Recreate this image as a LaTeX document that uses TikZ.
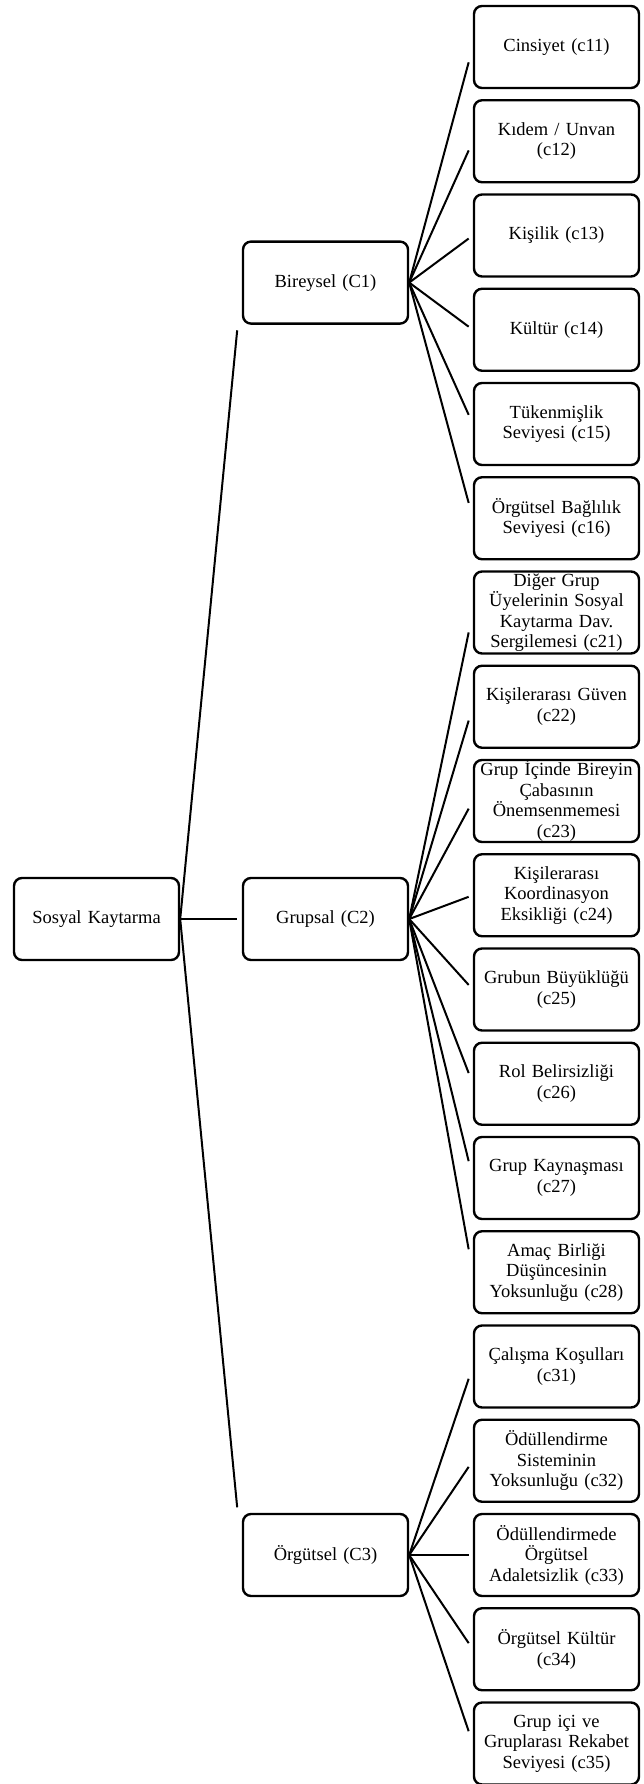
\documentclass[tikz,border=0pt]{standalone}
\usepackage{fontspec}
\setmainfont{Liberation Serif}
\usetikzlibrary{calc}
\begin{document}
\begin{tikzpicture}[x=1pt,y=-1pt,
  box/.style={draw, line width=2.4pt, rounded corners=8pt, minimum width=165pt,
    minimum height=82pt, text width=162pt, align=center, inner sep=0pt,
    font=\fontsize{18.5}{20.5}\selectfont},
  conn/.style={line width=2pt}]
\useasboundingbox (0,0) rectangle (643,1784);
% root and categories
\node[box] (sk) at (96.5,919) {Sosyal Kaytarma};
\node[box] (C1) at (325.5,282.6) {Bireysel (C1)};
\node[box] (C2) at (325.5,919) {Grupsal (C2)};
\node[box] (C3) at (325.5,1555) {Örgütsel (C3)};
% leaves
\node[box] (c11) at (556.5,47) {Cinsiyet (c11)};
\node[box] (c12) at (556.5,141.25) {Kıdem / Unvan\\(c12)};
\node[box] (c13) at (556.5,235.5) {Kişilik (c13)};
\node[box] (c14) at (556.5,329.75) {Kültür (c14)};
\node[box] (c15) at (556.5,424) {Tükenmişlik\\Seviyesi (c15)};
\node[box] (c16) at (556.5,518.25) {Örgütsel Bağlılık\\Seviyesi (c16)};
\node[box] (c21) at (556.5,612.5) {Diğer Grup\\Üyelerinin Sosyal\\Kaytarma Dav.\\Sergilemesi (c21)};
\node[box] (c22) at (556.5,706.75) {Kişilerarası Güven\\(c22)};
\node[box] (c23) at (556.5,801) {Grup İçinde Bireyin\\Çabasının\\Önemsenmemesi\\(c23)};
\node[box] (c24) at (556.5,895.25) {Kişilerarası\\Koordinasyon\\Eksikliği (c24)};
\node[box] (c25) at (556.5,989.5) {Grubun Büyüklüğü\\(c25)};
\node[box] (c26) at (556.5,1083.75) {Rol Belirsizliği\\(c26)};
\node[box] (c27) at (556.5,1178) {Grup Kaynaşması\\(c27)};
\node[box] (c28) at (556.5,1272.25) {Amaç Birliği\\Düşüncesinin\\Yoksunluğu (c28)};
\node[box] (c31) at (556.5,1366.5) {Çalışma Koşulları\\(c31)};
\node[box] (c32) at (556.5,1460.75) {Ödüllendirme\\Sisteminin\\Yoksunluğu (c32)};
\node[box] (c33) at (556.5,1555) {Ödüllendirmede\\Örgütsel\\Adaletsizlik (c33)};
\node[box] (c34) at (556.5,1649.25) {Örgütsel Kültür\\(c34)};
\node[box] (c35) at (556.5,1743.5) {Grup içi ve\\Gruplarası Rekabet\\Seviyesi (c35)};
% connectors
\foreach \t in {C1,C2,C3}
  \draw[conn] (sk.east) -- ($(sk.east)!0.925!(\t.west)$);
\foreach \t in {c11,c12,c13,c14,c15,c16}
  \draw[conn] (C1.east) -- ($(C1.east)!0.935!(\t.west)$);
\foreach \t in {c21,c22,c23,c24,c25,c26,c27,c28}
  \draw[conn] (C2.east) -- ($(C2.east)!0.935!(\t.west)$);
\foreach \t in {c31,c32,c33,c34,c35}
  \draw[conn] (C3.east) -- ($(C3.east)!0.935!(\t.west)$);
\end{tikzpicture}
\end{document}
